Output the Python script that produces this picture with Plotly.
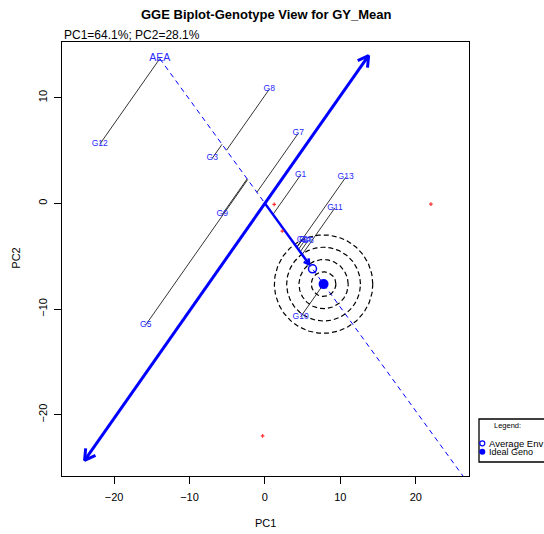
import numpy as np
import plotly.graph_objects as go

# ---- biplot scores -------------------------------------------------------
GENOTYPES = ["G1", "G2", "G3", "G4", "G5", "G6", "G7",
             "G8", "G9", "G10", "G11", "G12", "G13"]
GEN_PC1 = [4.73, 4.97, -6.99, 5.31, -15.8, 5.71, 4.42,
           0.57, -5.66, 4.73, 9.28, -21.9, 10.70]
GEN_PC2 = [2.68, -3.43, 4.26, -3.48, -11.5, -3.53, 6.63,
           10.79, -1.04, -10.74, -0.42, 5.59, 2.46]

ENV_PC1 = [1.23, 2.30, 22.0, -0.31]
ENV_PC2 = [-0.10, -2.62, -0.07, -22.0]

# extent of the axis perpendicular to the AEA (in PC units along that axis)
PERP_AXIS_T = [-34.1, 19.6]
# radii of the concentric rings around the ideal genotype (PC1 units)
RING_RADII = [1.63, 3.26, 4.89, 6.52]

TITLE = "GGE Biplot-Genotype View for GY_Mean"
SUBTITLE = "PC1=64.1%; PC2=28.1%"

# ---- layout geometry -----------------------------------------------------
W, H = 544, 534
ML, MR, MT, MB = 62, 75, 42, 58
XR = [-26.9, 27.05]
YR = [-25.8, 15.27]
PW, PH = W - ML - MR, H - MT - MB
PX_X = PW / (XR[1] - XR[0])
PX_Y = PH / (YR[1] - YR[0])

FONT = "Liberation Sans, Arial, sans-serif"
LABEL_BLUE = "#2828ff"

gx = np.array(GEN_PC1)
gy = np.array(GEN_PC2)
ex = np.array(ENV_PC1)
ey = np.array(ENV_PC2)

# average environment and its axis
ax_m, ay_m = ex.mean(), ey.mean()
norm = np.hypot(ax_m, ay_m)
u = np.array([ax_m, ay_m]) / norm          # AEA direction
v = np.array([-u[1], u[0]])                 # perpendicular direction
if v[0] < 0:
    v = -v

proj_t = gx * u[0] + gy * u[1]
px_ = proj_t * u[0]
py_ = proj_t * u[1]
ideal = proj_t.max() * u


def arrow_head(tail, tip, leg_px, ang_deg=30):
    """Open V arrowhead at `tip`, legs given in screen pixels."""
    dx = (tip[0] - tail[0]) * PX_X
    dy = (tip[1] - tail[1]) * PX_Y
    L = np.hypot(dx, dy)
    bx, by = -dx / L, -dy / L
    pts = []
    for s in (1, -1):
        a = np.radians(ang_deg) * s
        rx = bx * np.cos(a) - by * np.sin(a)
        ry = bx * np.sin(a) + by * np.cos(a)
        pts.append((tip[0] + rx * leg_px / PX_X, tip[1] + ry * leg_px / PX_Y))
    return [pts[0][0], tip[0], pts[1][0]], [pts[0][1], tip[1], pts[1][1]]


fig = go.Figure()

# projections of each genotype onto the AEA
seg_x, seg_y = [], []
for i in range(len(GENOTYPES)):
    seg_x += [gx[i], px_[i], None]
    seg_y += [gy[i], py_[i], None]
fig.add_trace(go.Scatter(x=seg_x, y=seg_y, mode="lines",
                         line=dict(color="black", width=0.8),
                         hoverinfo="skip"))

# AEA (dashed), from the lowest projection onward
t_lo = proj_t.min()
fig.add_trace(go.Scatter(x=[t_lo * u[0], 45 * u[0]], y=[t_lo * u[1], 45 * u[1]],
                         mode="lines",
                         line=dict(color="blue", width=1, dash="5px,4px"),
                         hoverinfo="skip"))

# concentric rings around the ideal genotype
th = np.linspace(0, 2 * np.pi, 200)
for r in RING_RADII:
    fig.add_trace(go.Scatter(x=ideal[0] + r * np.cos(th),
                             y=ideal[1] + r * (PX_X / PX_Y) * np.sin(th),
                             mode="lines",
                             line=dict(color="black", width=1.2, dash="5px,3px"),
                             hoverinfo="skip"))

# double-headed perpendicular axis
p_lo = PERP_AXIS_T[0] * v
p_hi = PERP_AXIS_T[1] * v
fig.add_trace(go.Scatter(x=[p_lo[0], p_hi[0]], y=[p_lo[1], p_hi[1]], mode="lines",
                         line=dict(color="blue", width=3), hoverinfo="skip"))
for tail, tip in ((p_hi, p_lo), (p_lo, p_hi)):
    hx, hy = arrow_head(tail, tip, 12)
    fig.add_trace(go.Scatter(x=hx, y=hy, mode="lines",
                             line=dict(color="blue", width=3), hoverinfo="skip"))

# arrow from origin toward the average environment
a_tip = 0.93 * np.array([ax_m, ay_m])
fig.add_trace(go.Scatter(x=[0, a_tip[0]], y=[0, a_tip[1]], mode="lines",
                         line=dict(color="blue", width=2.5), hoverinfo="skip"))
hx, hy = arrow_head((0, 0), a_tip, 6)
fig.add_trace(go.Scatter(x=hx, y=hy, mode="lines",
                         line=dict(color="blue", width=2.5), hoverinfo="skip"))

# environments
fig.add_trace(go.Scatter(x=ex, y=ey, mode="markers",
                         marker=dict(symbol="cross", size=3, color="#ff3030",
                                     line=dict(width=0)),
                         hoverinfo="skip"))

# average environment and ideal genotype
fig.add_trace(go.Scatter(x=[ax_m], y=[ay_m], mode="markers",
                         marker=dict(symbol="circle-open", size=8, color="blue",
                                     line=dict(width=1.5, color="blue")),
                         hoverinfo="skip"))
fig.add_trace(go.Scatter(x=[ideal[0]], y=[ideal[1]], mode="markers",
                         marker=dict(symbol="circle", size=10, color="blue"),
                         hoverinfo="skip"))

# genotype labels
fig.add_trace(go.Scatter(x=gx, y=gy, mode="text", text=GENOTYPES,
                         textposition="middle center",
                         textfont=dict(family=FONT, size=8.5, color=LABEL_BLUE),
                         hoverinfo="skip"))
fig.add_trace(go.Scatter(x=[t_lo * u[0]], y=[t_lo * u[1]], mode="text", text=["AEA"],
                         textposition="middle center",
                         textfont=dict(family=FONT, size=10.5, color=LABEL_BLUE),
                         hoverinfo="skip"))


def paper_x(px):
    return (px - ML) / PW


def paper_y(py):
    return (H - MB - py) / PH


annotations = [
    dict(text="<b>%s</b>" % TITLE, x=paper_x(265.5), y=paper_y(15),
         font=dict(family=FONT, size=13, color="black")),
    dict(text=SUBTITLE, x=0, y=paper_y(35), xanchor="left",
         font=dict(family=FONT, size=12, color="black")),
    dict(text="PC1", x=paper_x(265.5), y=paper_y(523),
         font=dict(family=FONT, size=11, color="black")),
    dict(text="PC2", x=paper_x(15.7), y=paper_y(258), textangle=-90,
         font=dict(family=FONT, size=11, color="black")),
    dict(text="Legend:", x=paper_x(507), y=paper_y(425),
         font=dict(family=FONT, size=7.5, color="black")),
    dict(text="Average Env", x=paper_x(487), y=paper_y(443.3), xanchor="left",
         font=dict(family=FONT, size=9.5, color="black")),
    dict(text="Ideal Geno", x=paper_x(487), y=paper_y(451.7), xanchor="left",
         font=dict(family=FONT, size=9, color="black")),
]
for a in annotations:
    a.update(xref="paper", yref="paper", showarrow=False)
    a.setdefault("xanchor", "center")
    a.setdefault("yanchor", "middle")

shapes = [
    dict(type="rect", xref="paper", yref="paper",
         x0=paper_x(479), x1=paper_x(580), y0=paper_y(462), y1=paper_y(419),
         line=dict(color="black", width=1.3)),
    dict(type="circle", xref="paper", yref="paper", xsizemode="pixel",
         ysizemode="pixel", xanchor=paper_x(482.3), yanchor=paper_y(443.3),
         x0=-2.5, x1=2.5, y0=-2.5, y1=2.5, line=dict(color="blue", width=1.2)),
    dict(type="circle", xref="paper", yref="paper", xsizemode="pixel",
         ysizemode="pixel", xanchor=paper_x(482.3), yanchor=paper_y(451.7),
         x0=-3, x1=3, y0=-3, y1=3, fillcolor="blue",
         line=dict(color="blue", width=0)),
]

axis_common = dict(showgrid=False, zeroline=False, showline=True, mirror=True,
                   linecolor="black", linewidth=1, ticks="outside", ticklen=7,
                   tickcolor="black", tickwidth=1,
                   tickfont=dict(family=FONT, size=11, color="black"))

fig.update_layout(
    width=W, height=H, margin=dict(l=ML, r=MR, t=MT, b=MB),
    plot_bgcolor="white", paper_bgcolor="white", showlegend=False,
    xaxis=dict(range=XR, tickvals=[-20, -10, 0, 10, 20], ticklabelstandoff=4,
               **axis_common),
    yaxis=dict(range=YR, tickvals=[-20, -10, 0, 10], tickangle=-90,
               ticklabelstandoff=3, **axis_common),
    annotations=annotations, shapes=shapes,
)

fig.write_html("out.html")
